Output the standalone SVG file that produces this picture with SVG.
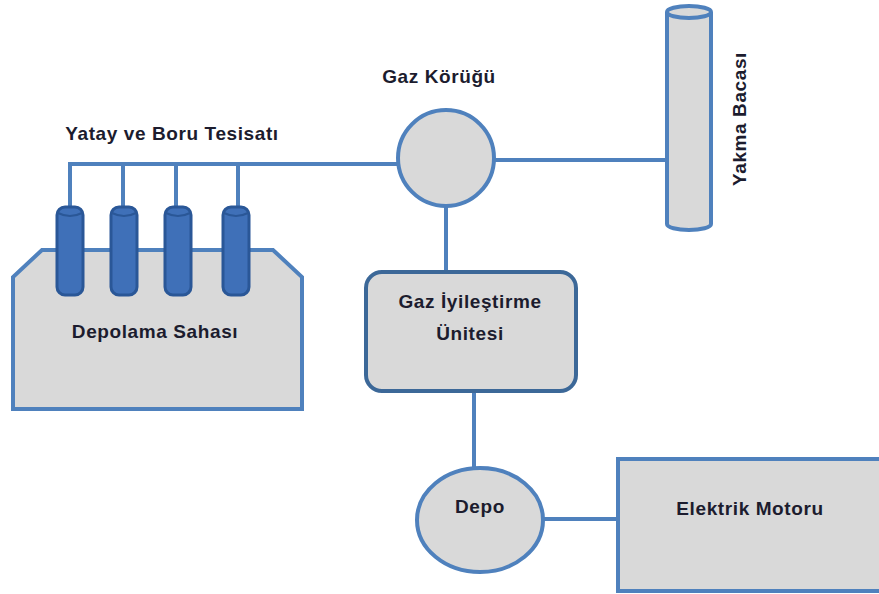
<svg xmlns="http://www.w3.org/2000/svg" width="879" height="594" viewBox="0 0 879 594">
<style>
.pipe{stroke:#4f81bd;stroke-width:4;fill:none}
.shape{fill:#d9d9d9;stroke:#4f81bd;stroke-width:4}
.tube{fill:#3f70b8;stroke:#2a5797;stroke-width:3}
.cap{fill:none;stroke:#2a5797;stroke-width:2}
.lbl{font-family:"Liberation Sans",Arial,sans-serif;font-weight:bold;font-size:19px;letter-spacing:0.6px;fill:#1c1c2e;text-anchor:middle}
</style>
<rect width="879" height="594" fill="#ffffff"/>
<g id="connectors">
<path class="pipe" d="M70,207 V164 H400"/>
<path class="pipe" d="M123,207 V164"/>
<path class="pipe" d="M176,207 V164"/>
<path class="pipe" d="M238,207 V164"/>
<path class="pipe" d="M493,160 H668"/>
<path class="pipe" d="M446,205 V272"/>
<path class="pipe" d="M474,391 V468"/>
<path class="pipe" d="M543,519 H618"/>
</g>
<g id="depolama-sahasi">
<polygon class="shape" points="42,250 273,250 302,277 302,409 13,409 13,277"/>
<rect class="tube" x="57" y="207" width="26" height="88" rx="8"/>
<rect class="tube" x="111" y="207" width="26" height="88" rx="8"/>
<rect class="tube" x="165" y="207" width="26" height="88" rx="8"/>
<rect class="tube" x="223" y="207" width="26" height="88" rx="8"/>
<path class="cap" d="M58,213 Q70,219 82,213 M112,213 Q124,219 136,213 M166,213 Q178,219 190,213 M224,213 Q236,219 248,213"/>
<text class="lbl" x="155" y="338">Depolama Sahası</text>
</g>
<g id="yatay-boru">
<text class="lbl" x="172" y="140">Yatay ve Boru Tesisatı</text>
</g>
<g id="gaz-korugu">
<circle class="shape" cx="446" cy="158" r="48"/>
<text class="lbl" x="439" y="83">Gaz Körüğü</text>
</g>
<g id="yakma-bacasi">
<path class="shape" d="M667,12 V224 A22,6 0 0 0 711,224 V12"/>
<ellipse class="shape" cx="689" cy="12" rx="22" ry="6"/>
<text class="lbl" transform="translate(746,119) rotate(-90)">Yakma Bacası</text>
</g>
<g id="gaz-iyilestirme">
<rect x="366" y="272" width="210" height="119" rx="16" fill="#d9d9d9" stroke="#3c6898" stroke-width="4"/>
<text class="lbl" x="470" y="308">Gaz İyileştirme</text>
<text class="lbl" x="470" y="340">Ünitesi</text>
</g>
<g id="depo">
<ellipse class="shape" cx="480" cy="520" rx="63" ry="52"/>
<text class="lbl" x="480" y="513">Depo</text>
</g>
<g id="elektrik-motoru">
<rect class="shape" x="618" y="459" width="265" height="132"/>
<text class="lbl" x="750" y="515">Elektrik Motoru</text>
</g>
</svg>
